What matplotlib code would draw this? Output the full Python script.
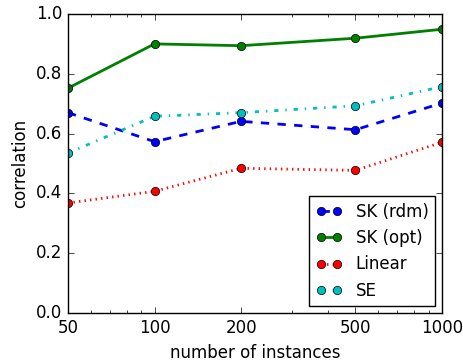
import matplotlib
matplotlib.use("Agg")
import matplotlib.pyplot as plt
from matplotlib.ticker import FixedLocator, FixedFormatter, NullFormatter

plt.style.use('classic')

x_vals = [50, 100, 200, 500, 1000]
x_labels = ['50', '100', '200', '500', '1000']
sk_rdm = [0.670, 0.573, 0.641, 0.613, 0.702]
sk_opt = [0.752, 0.900, 0.894, 0.919, 0.949]
linear = [0.368, 0.407, 0.484, 0.477, 0.571]
se = [0.535, 0.658, 0.670, 0.693, 0.757]

fig = plt.figure(figsize=(4.64, 3.61), dpi=100, facecolor='white')
ax = fig.add_axes([68/464, 1-313/361, (442-68)/464, (313-14)/361])

ax.plot(x_vals, sk_rdm, 'b--', marker='o', lw=2, ms=6, label='SK (rdm)')
ax.plot(x_vals, sk_opt, 'g-', marker='o', lw=2, ms=6, label='SK (opt)')
ax.plot(x_vals, linear, 'r:', marker='o', lw=2, ms=6, label='Linear')
ax.plot(x_vals, se, 'c-.', marker='o', lw=2, ms=6, label='SE')

ax.set_xscale('log')
ax.set_xlim(50, 1000)
ax.set_ylim(0, 1.0)
ax.xaxis.set_major_locator(FixedLocator(x_vals))
ax.xaxis.set_major_formatter(FixedFormatter(x_labels))
ax.xaxis.set_minor_formatter(NullFormatter())
ax.tick_params(labelsize=12)
ax.set_xlabel('number of instances', fontsize=12)
ax.set_ylabel('correlation', fontsize=12)
ax.legend(loc='lower right', fontsize=12, numpoints=2, handlelength=1.6,
          borderaxespad=0.4)

fig.savefig('out.png', dpi=100, facecolor='white')
